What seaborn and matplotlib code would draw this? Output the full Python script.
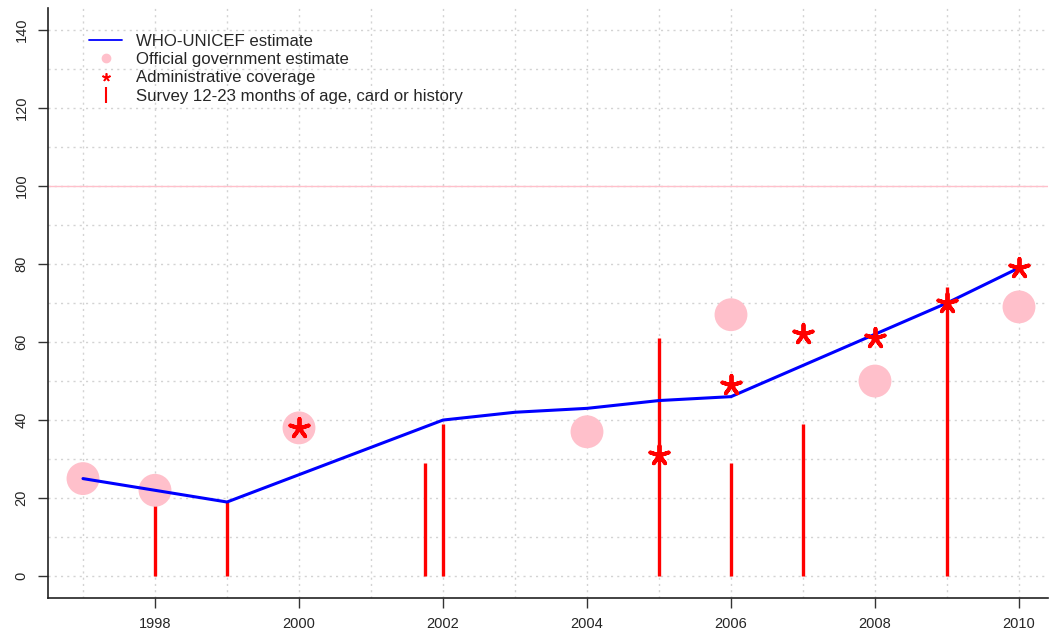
import matplotlib
matplotlib.use('Agg')
import matplotlib.pyplot as plt
from matplotlib.lines import Line2D
import seaborn as sns
import pandas as pd

# WHO-UNICEF 추정치
who_years = [1997, 1998, 1999, 2000, 2001, 2002, 2003, 2004, 2005, 2006, 2007, 2008, 2009, 2010]
who_values = [25, 22, 19, 26, 33, 40, 42, 43, 45, 46, 54, 62, 70, 79]

# 정부 공식 추정치
gov_years = [1997, 1998, 2000, 2004, 2006, 2008, 2010]
gov_values = [25, 22, 38, 37, 67, 50, 69]

# 행정 보고 접종률
admin_years = [2000, 2005, 2006, 2007, 2008, 2009, 2010]
admin_values = [38, 31, 49, 62, 61, 70, 79]

# 조사 (12-23개월, 카드 또는 기억)
survey_years = [1998, 1999, 2001.75, 2002, 2005, 2006, 2007, 2009]
survey_values = [23, 19, 29, 39, 61, 29, 39, 74]

sns.set_style('white')
plt.rcParams['font.family'] = ['Liberation Sans', 'DejaVu Sans']

fig = plt.figure(figsize=(10.5, 6.35), dpi=100)
ax = fig.add_axes([48 / 1050, 1 - 598 / 635, 1000 / 1050, 590 / 635])

ax.set_xlim(1996.514, 2010.403)
ax.set_ylim(-5.6, 145.6)

who_df = pd.DataFrame({'year': who_years, 'value': who_values})
gov_df = pd.DataFrame({'year': gov_years, 'value': gov_values})
admin_df = pd.DataFrame({'year': admin_years, 'value': admin_values})

ax.vlines(survey_years, 0, survey_values, color='red', linewidth=2.4, zorder=2)
sns.scatterplot(data=gov_df, x='year', y='value', ax=ax, color='pink', s=560,
                edgecolor='none', zorder=3, legend=False)
sns.lineplot(data=who_df, x='year', y='value', ax=ax, color='blue', linewidth=2.2,
             zorder=4, legend=False)
sns.scatterplot(data=admin_df, x='year', y='value', ax=ax, marker=(5, 2, 0), s=190,
                color='red', edgecolor='red', linewidth=2.8, zorder=5, legend=False)

ax.set_xlabel('')
ax.set_ylabel('')
ax.set_xticks(range(1998, 2011, 2))
ax.set_yticks(range(0, 141, 20))
ax.set_xticks(range(1997, 2011), minor=True)
ax.set_yticks(range(0, 150, 10), minor=True)

# 격자 (주/보조 모두)
ax.grid(which='both', color='#d3d3d3', linestyle=(0, (1.5, 3)), linewidth=1.0, zorder=0)
ax.set_axisbelow(True)
ax.axhline(100, color='pink', linewidth=1, zorder=1)

ax.tick_params(which='major', direction='out', length=7, width=1, color='#333333',
               labelsize=10.5, pad=7, bottom=True, left=True)
ax.tick_params(which='minor', length=0, bottom=False, left=False)
plt.setp(ax.get_yticklabels(), rotation=90, va='center')
for lab in ax.get_xticklabels() + ax.get_yticklabels():
    lab.set_family(['Liberation Sans Narrow', 'Liberation Sans'])

for side in ['top', 'right']:
    ax.spines[side].set_visible(False)
for side in ['left', 'bottom']:
    ax.spines[side].set_color('#222222')
    ax.spines[side].set_linewidth(1.2)

handles = [
    Line2D([], [], color='blue', linewidth=1.3),
    Line2D([], [], linestyle='none', marker='o', color='pink', markersize=6),
    Line2D([], [], linestyle='none', marker=(5, 2, 0), color='red', markersize=6, markeredgewidth=1.2),
    Line2D([], [], linestyle='none', marker='|', color='red', markersize=12, markeredgewidth=1.5),
]
labels = ['WHO-UNICEF estimate', 'Official government estimate',
          'Administrative coverage', 'Survey 12-23 months of age, card or history']
ax.legend(handles, labels, loc='upper left', bbox_to_anchor=(0.026, 0.982), frameon=False,
          fontsize=12.1, handlelength=1.95, handletextpad=0.85, labelspacing=0.2)

fig.savefig('out.png', dpi=100)
